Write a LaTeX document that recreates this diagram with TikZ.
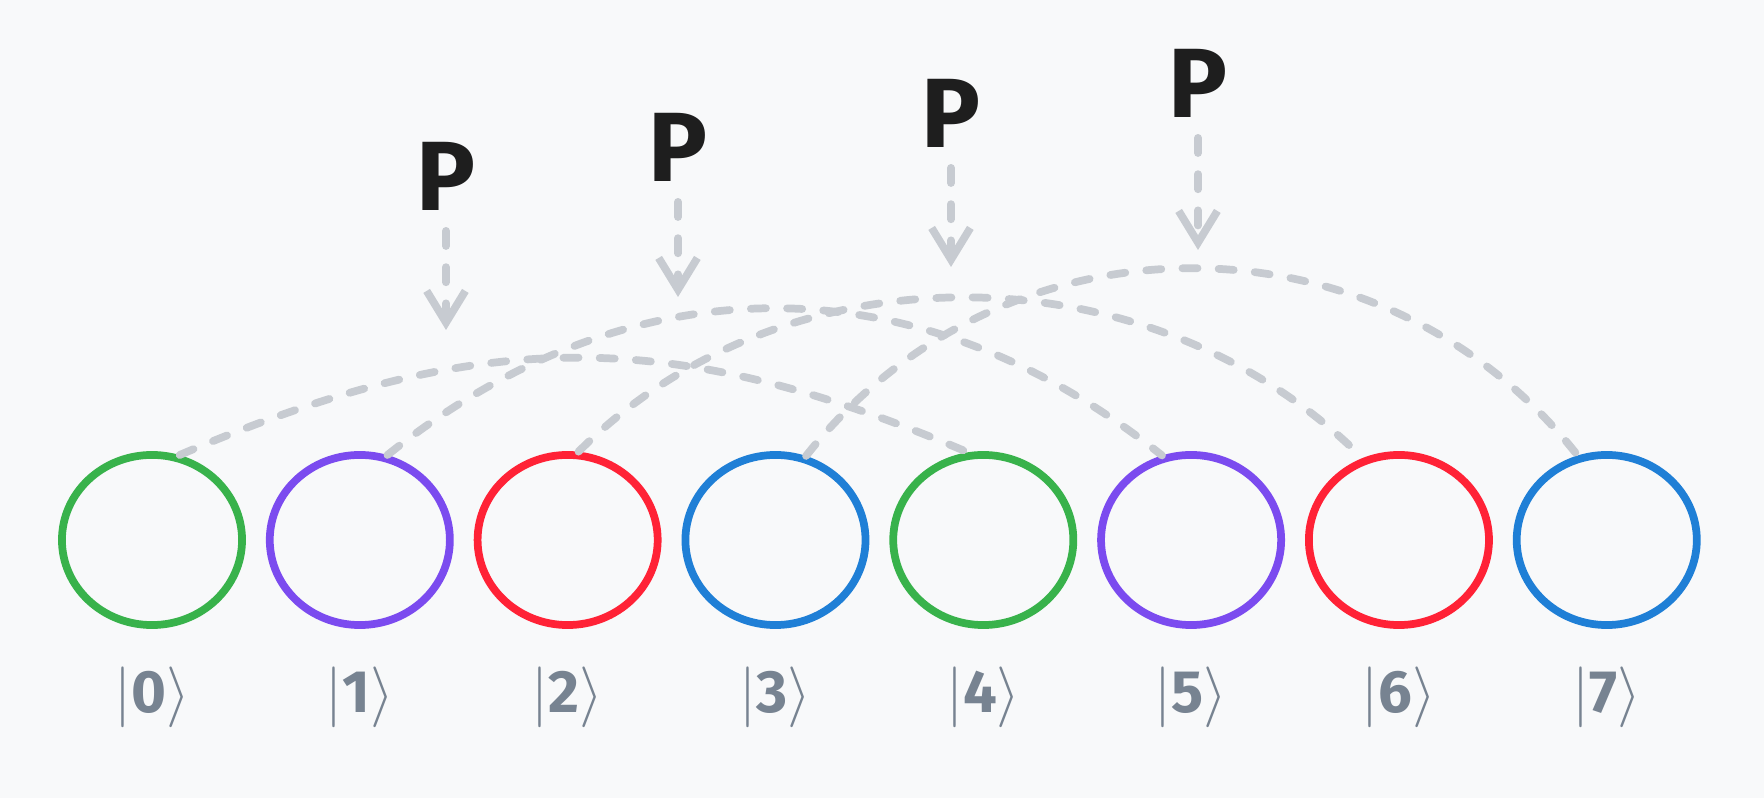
\documentclass[tikz,border=0pt]{standalone}
\usepackage{fontspec}
\setmainfont{Fira Sans}
\usetikzlibrary{shapes.geometric, arrows.meta}
\definecolor{bgcol}{HTML}{F8F9FA}
\definecolor{qgreen}{HTML}{38B24B}
\definecolor{qpurple}{HTML}{7B4BEF}
\definecolor{qred}{HTML}{FF2236}
\definecolor{qblue}{HTML}{1F7FD6}
\definecolor{ketgray}{HTML}{778391}
\definecolor{dashgray}{HTML}{C7CBD1}
\definecolor{inkblack}{HTML}{1E1E1E}
\newcommand{\ketlbl}[1]{$\vert\mathbf{#1}\rangle$}

\begin{document}
\begin{tikzpicture}[
    x=0.01cm, y=-0.01cm,
    node distance=2.077cm,
    qstate/.style={ellipse, draw, line width=2.2pt, minimum width=1.8cm, minimum height=1.7cm, inner sep=0pt},
    ket/.style={node distance=1.57cm, text=ketgray, font=\fontsize{17}{19}\selectfont},
    pop/.style={text=inkblack, font=\fontsize{28}{30}\selectfont\bfseries, inner sep=0pt, text height=20pt, text depth=0pt},
    link/.style={dashgray, line width=2.2pt, line cap=round, dash pattern=on 4.3pt off 6pt},
    drop/.style={link, -{Straight Barb[length=9pt, width=11pt]}, shorten <=5.7pt}
]
    \fill[bgcol] (0,0) rectangle (1764,798);

    % basis states
    \node[qstate, qgreen] (q0) at (152,540) {};
    \node[qstate, qpurple, right of=q0] (q1) {};
    \node[qstate, qred, right of=q1] (q2) {};
    \node[qstate, qblue, right of=q2] (q3) {};
    \node[qstate, qgreen, right of=q3] (q4) {};
    \node[qstate, qpurple, right of=q4] (q5) {};
    \node[qstate, qred, right of=q5] (q6) {};
    \node[qstate, qblue, right of=q6] (q7) {};

    \node[ket, below of=q0] (k0) {\ketlbl{0}};
    \node[ket, below of=q1] (k1) {\ketlbl{1}};
    \node[ket, below of=q2] (k2) {\ketlbl{2}};
    \node[ket, below of=q3] (k3) {\ketlbl{3}};
    \node[ket, below of=q4] (k4) {\ketlbl{4}};
    \node[ket, below of=q5] (k5) {\ketlbl{5}};
    \node[ket, below of=q6] (k6) {\ketlbl{6}};
    \node[ket, below of=q7] (k7) {\ketlbl{7}};

    % links
    \draw[link] (q0.72) .. controls +(300,-128) and +(-300,-128) .. (q4.100);
    \draw[link] (q1.72) .. controls +(245,-196) and +(-245,-196) .. (q5.109);
    \draw[link] (q2.83) .. controls +(210,-210) and +(-210,-210) .. (q6.114);
    \draw[link] (q3.70) .. controls +(197,-250) and +(-197,-250) .. (q7.109);

    % P operators
    \node[pop] (p1) at (446,175) {P};
    \node[pop] (p2) at (678,146) {P};
    \node[pop] (p3) at (951,112) {P};
    \node[pop] (p4) at (1198,82) {P};
    \coordinate (t1) at (446,330);
    \coordinate (t2) at (678,297);
    \coordinate (t3) at (951,267);
    \coordinate (t4) at (1198,250);

    \draw[drop] (p1) -- (t1);
    \draw[drop] (p2) -- (t2);
    \draw[drop] (p3) -- (t3);
    \draw[drop] (p4) -- (t4);
\end{tikzpicture}
\end{document}
